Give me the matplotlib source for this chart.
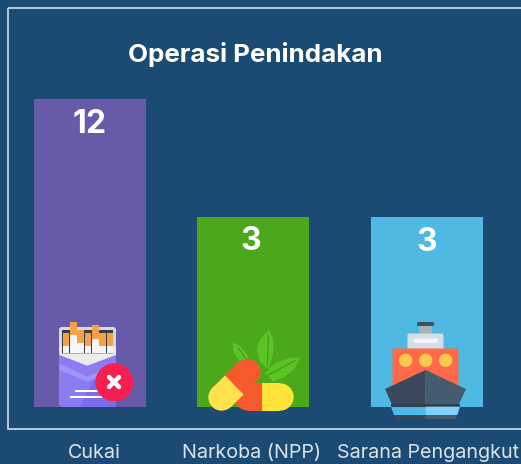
import matplotlib
matplotlib.use('Agg')
import matplotlib.pyplot as plt
from matplotlib.patches import Circle, Polygon, Rectangle, FancyBboxPatch
import numpy as np

categories = ['Cukai', 'Narkoba (NPP)', 'Sarana Pengangkut']
values = [12, 3, 3]
bar_colors = ['#675aa9', '#4aa81a', '#4fb8e3']
title = 'Operasi Penindakan'

BG = '#1b4a72'
W, H = 521, 464
plt.rcParams['font.family'] = ['Inter', 'DejaVu Sans']

# bars sit on a log axis, top at 12 and baseline at 0.32
fig = plt.figure(figsize=((W+0.01)/100, (H+0.01)/100), dpi=100, facecolor=BG)
ax = fig.add_axes([0, (H-407)/H, 1, 308/H])
ax.set_facecolor('none')
ax.set_yscale('log')
ax.set_ylim(0.32, 12)
ax.set_xlim(0, W)
ax.bar([90, 253, 427], values, width=112, bottom=0.01, color=bar_colors)
ax.axis('off')

# overlay in pixel coords for frame, text and icons
ov = fig.add_axes([0, 0, 1, 1])
ov.set_xlim(0, W)
ov.set_ylim(H, 0)
ov.axis('off')
ov.patch.set_alpha(0)

ov.add_patch(Rectangle((8, 8), W, 421, fill=False, ec='#d5dee6', lw=1.2))
ov.text(255, 54, title, color='white', fontsize=18.7, fontweight='bold', ha='center', va='center')
for x, y, v in zip([90, 251, 427], [124, 241, 242], values):
    ov.text(x, y, str(v), color='white', fontsize=23, fontweight='bold', ha='center', va='center')
for x, c in zip([94, 252, 428], categories):
    ov.text(x, 453, c, color='#dde6ee', fontsize=14.2, ha='center', va='center')


def poly(pts, col, ox, oy, z=3):
    pts = [(ox+p[0]/3, oy+p[1]/3) for p in pts]
    ov.add_patch(Polygon(pts, closed=True, fc=col, ec='none', zorder=z))


def box(x0, y0, x1, y1, col, ox, oy, z=3):
    poly([(x0, y0), (x1, y0), (x1, y1), (x0, y1)], col, ox, oy, z)


def disc(x, y, r, col, ox, oy, z=3):
    ov.add_patch(Circle((ox+x/3, oy+y/3), r/3, fc=col, ec='none', zorder=z))


def half_pill(p0, p1, r, col, ox, oy, z=3):
    # capsule half: flat at p0, rounded at p1
    p0, p1 = np.array(p0, float), np.array(p1, float)
    d = p1-p0
    n = np.array([-d[1], d[0]])/np.hypot(*d)*r
    poly([p0+n, p1+n, p1-n, p0-n], col, ox, oy, z)
    disc(p1[0], p1[1], r, col, ox, oy, z)


# cigarette pack, coords are zoom px from (30,300)
ox, oy = 30, 300
ov.add_patch(FancyBboxPatch((59, 327), 57, 80, boxstyle='round,pad=0,rounding_size=3', fc='#8b7cf2', ec='none', zorder=3))
ov.add_patch(FancyBboxPatch((59, 327), 57, 26, boxstyle='round,pad=0,rounding_size=3', fc='#d8d8dc', ec='none', zorder=3))
box(96, 90, 250, 165, '#3b3b40', ox, oy)
for x0, top, filt in [(98, 98, 138), (120, 66, 105), (142, 90, 130), (164, 98, 138), (186, 76, 118), (208, 98, 138), (230, 98, 138)]:
    box(x0, top, x0+20, 160, '#f5f5f5', ox, oy)
    box(x0, top, x0+20, filt, '#f4a24a', ox, oy)
poly([(88, 140), (96, 140), (96, 160), (250, 160), (250, 140), (258, 140), (258, 165), (172, 197), (88, 165)], '#ececec', ox, oy)
poly([(88, 190), (172, 230), (258, 190), (258, 210), (172, 245), (88, 210)], '#a193f7', ox, oy)
poly([(150, 320), (258, 320), (258, 255), (190, 240)], '#7a6cea', ox, oy)
box(135, 269, 215, 276, 'white', ox, oy)
box(120, 288, 215, 295, 'white', ox, oy)
disc(253, 247, 57, '#f5204f', ox, oy, 4)
ov.plot([109, 119], [377, 387], color='white', lw=3.2, solid_capstyle='round', zorder=5)
ov.plot([119, 109], [377, 387], color='white', lw=3.2, solid_capstyle='round', zorder=5)

# pills and leaves, coords are zoom px from (190,310)
ox, oy = 190, 310
poly([(127, 97), (150, 108), (172, 135), (180, 160), (150, 155), (132, 130)], '#5ac425', ox, oy)
poly([(237, 58), (250, 90), (250, 130), (235, 175), (210, 155), (200, 120), (212, 85)], '#5ac425', ox, oy)
poly([(330, 142), (315, 175), (285, 200), (250, 215), (225, 190), (255, 158), (295, 145)], '#5ac425', ox, oy)
for seg in [[(145, 115), (175, 155)], [(235, 75), (232, 165)], [(315, 152), (235, 195)]]:
    ov.plot([ox+p[0]/3 for p in seg], [oy+p[1]/3 for p in seg], color='#3f9a1c', lw=0.8, zorder=3.5)
half_pill((216, 261), (174, 261), 41, '#f55a2f', ox, oy, 4)
half_pill((216, 261), (270, 261), 41, '#ffe338', ox, oy, 4)
half_pill((133, 225), (172, 186), 40, '#f55a2f', ox, oy, 5)
half_pill((133, 225), (95, 262), 40, '#ffe14d', ox, oy, 5)

# ship, coords are zoom px from (365,310)
ox, oy = 365, 310
box(162, 46, 202, 74, '#a9b1b8', ox, oy)
ov.add_patch(FancyBboxPatch((417, 322), 17, 4, boxstyle='round,pad=0,rounding_size=1.5', fc='#3e4f5e', ec='none', zorder=4))
ov.add_patch(FancyBboxPatch((407.5, 333.5), 36, 17, boxstyle='round,pad=0,rounding_size=2', fc='#d5dde6', ec='none', zorder=3))
ov.add_patch(FancyBboxPatch((413.5, 338.5), 24, 4.5, boxstyle='round,pad=0,rounding_size=2', fc='#f4f6f8', ec='none', zorder=4))
ov.add_patch(FancyBboxPatch((392.5, 348.5), 66, 40, boxstyle='round,pad=0,rounding_size=2', fc='#ff6a4a', ec='none', zorder=3))
for x in [122, 182, 242]:
    disc(x, 151, 20, '#fdc94e', ox, oy, 4)
poly([(60, 237), (182, 180), (182, 282), (80, 282)], '#39495b', ox, oy, 5)
poly([(182, 180), (303, 237), (282, 282), (182, 282)], '#455c6e', ox, oy, 5)
box(78, 282, 285, 290, '#2f3f4e', ox, oy, 5)
poly([(78, 290), (182, 290), (182, 315), (86, 315)], '#4db9ea', ox, oy, 5)
poly([(182, 290), (285, 290), (277, 315), (182, 315)], '#7fd2ff', ox, oy, 5)
poly([(88, 315), (182, 315), (182, 327), (92, 327)], '#39495b', ox, oy, 5)
poly([(182, 315), (275, 315), (272, 327), (182, 327)], '#455c6e', ox, oy, 5)

fig.savefig('out.png', dpi=100, facecolor=BG)
